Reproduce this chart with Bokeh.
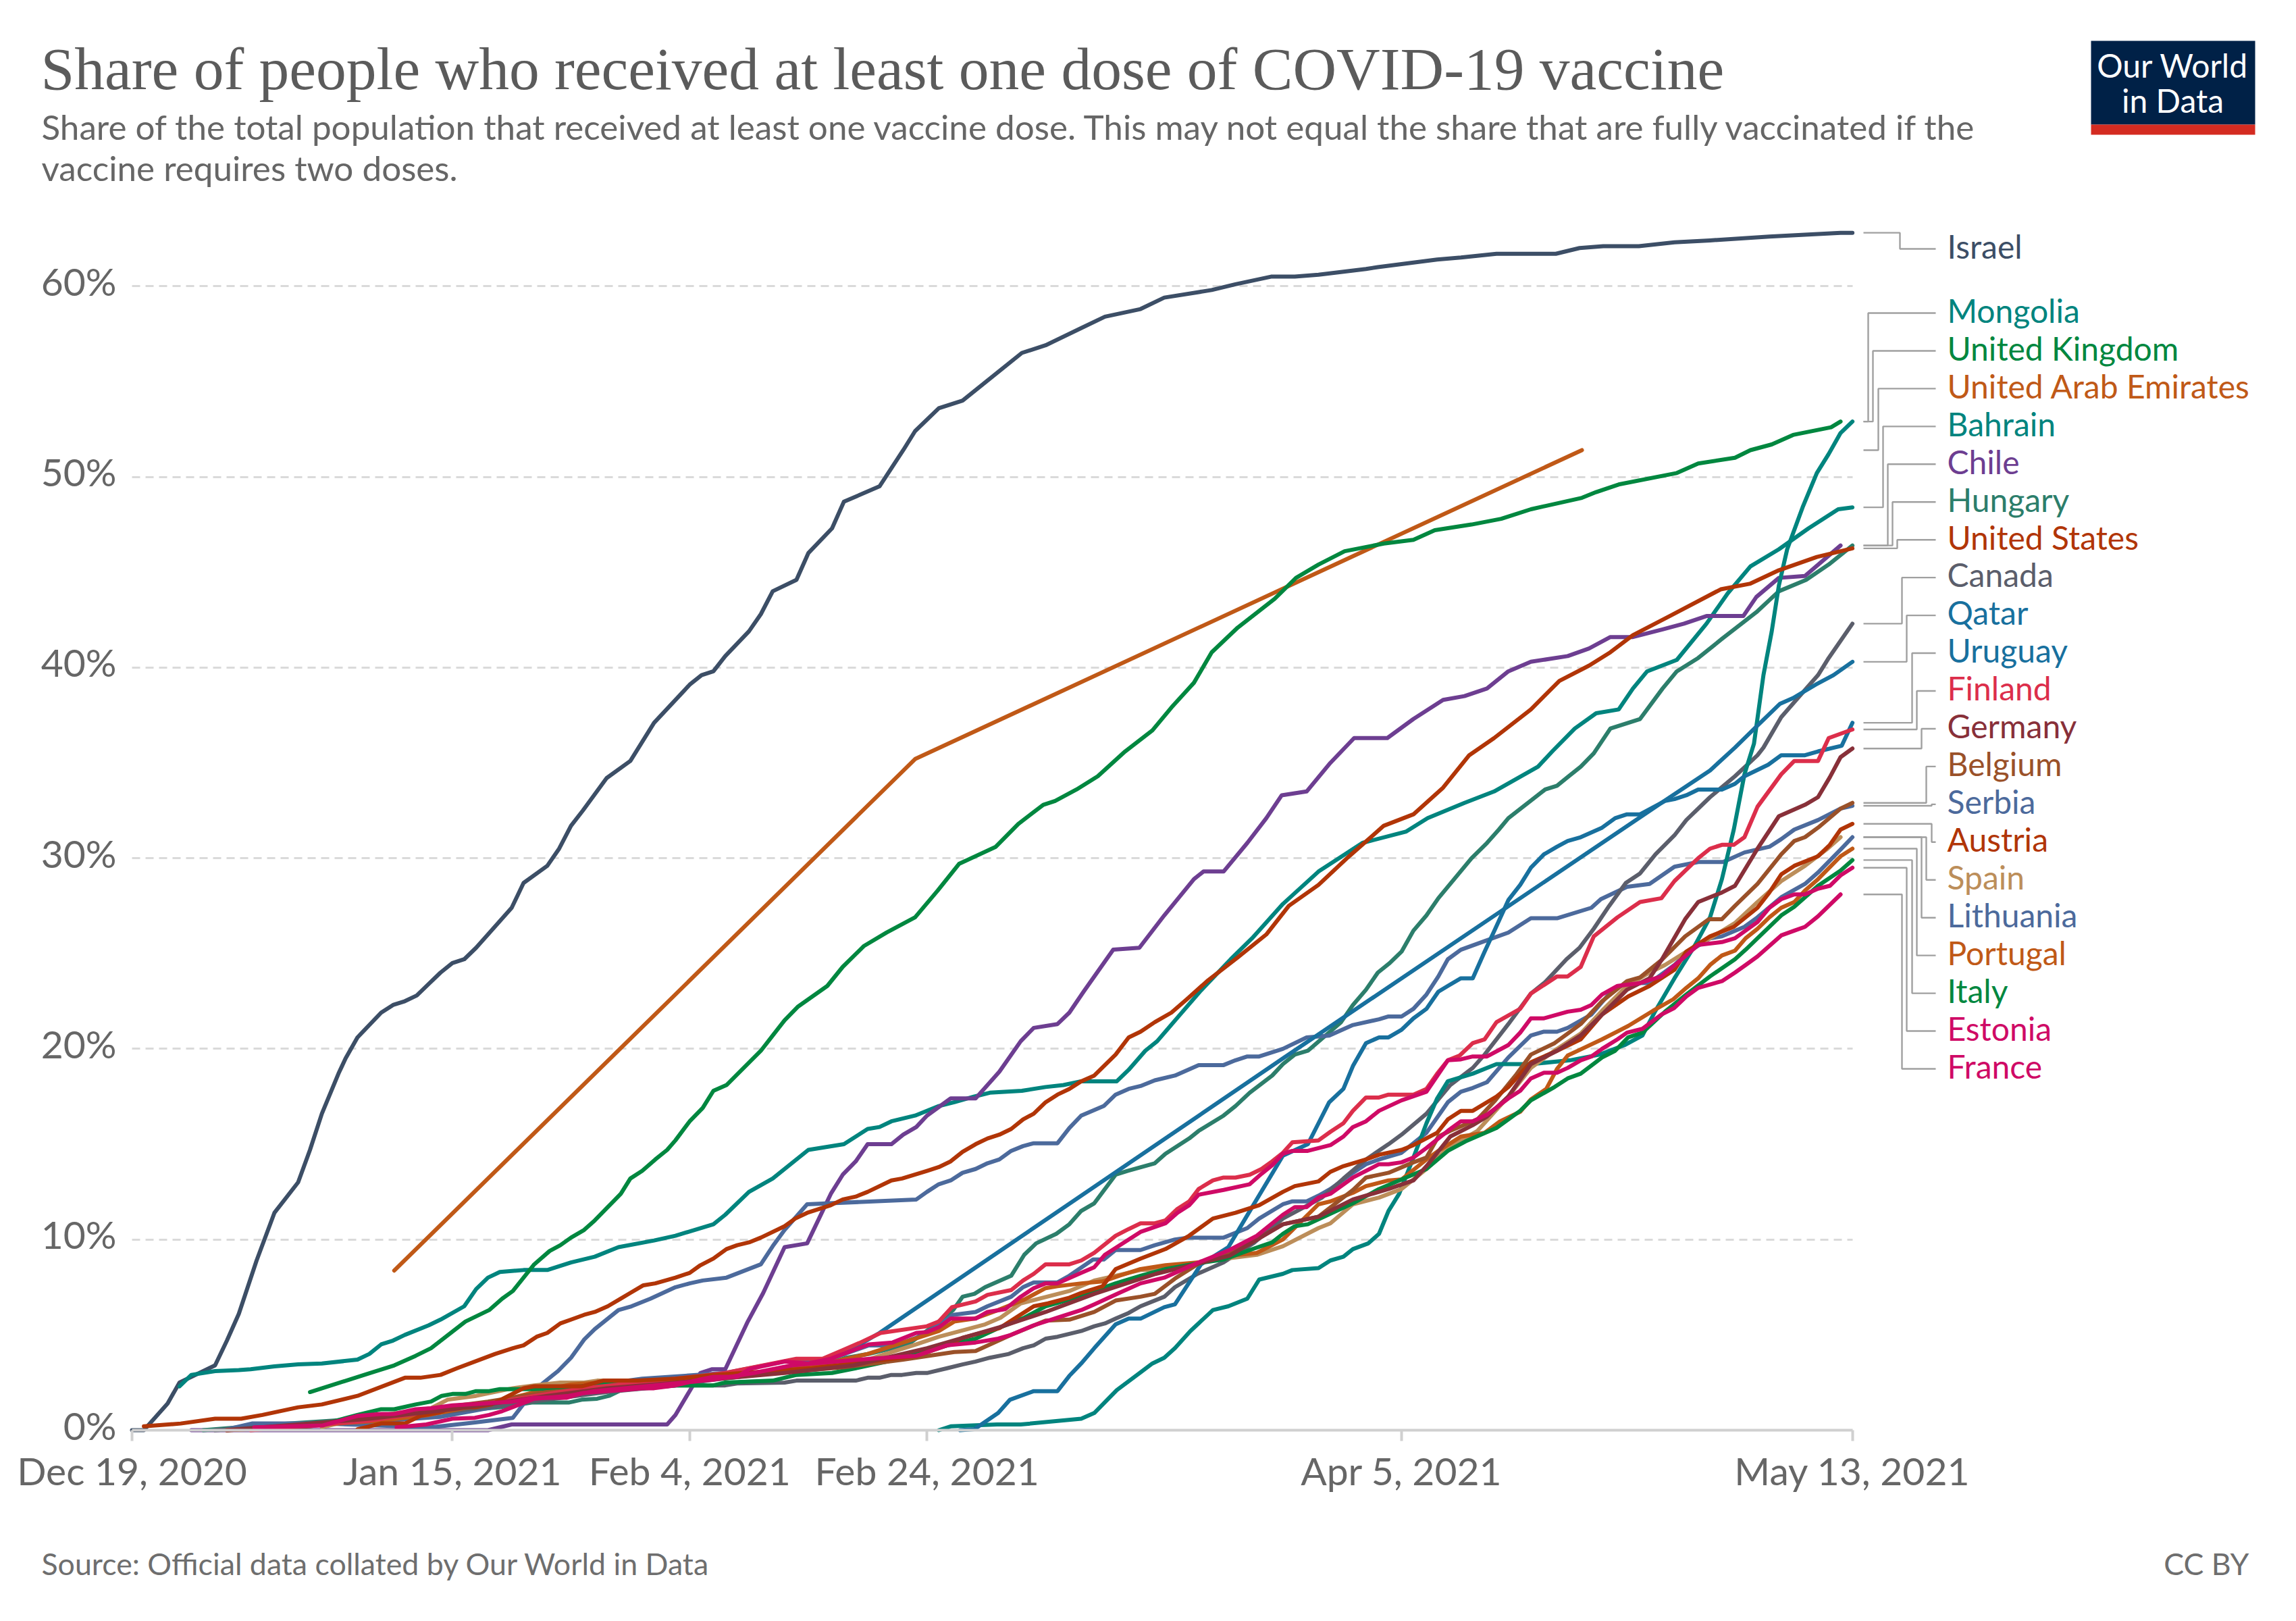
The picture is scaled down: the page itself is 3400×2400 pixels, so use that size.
from bokeh.plotting import figure
from bokeh.embed import file_html
from bokeh.resources import INLINE
from bokeh.models import Range1d, LinearAxis, FixedTicker, Grid, Label

# ---------- data: (days since Dec 19 2020, share %) ----------
x_tick_days = [0, 27, 47, 67, 107, 145]
x_tick_labels = ["Dec 19, 2020", "Jan 15, 2021", "Feb 4, 2021", "Feb 24, 2021", "Apr 5, 2021", "May 13, 2021"]
y_ticks = [0, 10, 20, 30, 40, 50, 60]

israel = [(0,0),(1,0),(3,1.4),(4,2.5),(5,2.8),(7,3.4),(8,4.7),(9,6.1),(10.5,8.9),(12,11.4),(14,13),(15,14.7),(16,16.6),(17.4,18.7),(18,19.5),(19,20.6),(21,21.9),(22,22.3),(23,22.5),(24,22.8),(25,23.4),(26,24),(27,24.5),(28,24.7),(29,25.3),(30,26),(32,27.4),(33,28.7),(35,29.6),(36,30.5),(37,31.7),(38,32.5),(40,34.2),(42,35.1),(43,36.1),(44,37.1),(47,39.1),(48,39.6),(49,39.8),(50,40.6),(52,41.9),(53,42.8),(54,44),(56,44.6),(57,46),(59,47.3),(60,48.7),(63,49.5),(65,51.4),(66,52.4),(68,53.6),(70,54),(72,55),(75,56.5),(77,56.9),(80,57.8),(82,58.4),(85,58.8),(87,59.4),(90,59.7),(91,59.8),(93,60.1),(96,60.5),(98,60.5),(100,60.6),(104,60.9),(105,61),(110,61.4),(112,61.5),(115,61.7),(120,61.7),(122,62),(124,62.1),(127,62.1),(130,62.3),(133,62.4),(138,62.6),(144,62.8),(145,62.8)]
mongolia = [(68,0),(69,0.2),(72.9,0.3),(74.9,0.3),(80,0.6),(81.1,0.9),(83,2.1),(86,3.5),(87,3.8),(87.9,4.3),(89.2,5.2),(91.1,6.3),(92.4,6.5),(94,6.9),(95,7.9),(97,8.2),(97.8,8.4),(100,8.5),(101,8.9),(102.1,9.1),(102.9,9.5),(104.2,9.8),(105.1,10.3),(105.9,11.5),(106.8,12.4),(108,14.3),(109.1,16.1),(110,17.4),(110.9,18.3),(113,18.7),(115,19.2),(117.9,19.2),(121.2,19.4),(123.7,19.7),(125.8,20.2),(127.3,20.7),(128.4,22),(130,23.7),(131.7,25.4),(133,26.9),(134,28.9),(135,31.5),(135.9,34.4),(136.7,36),(137.5,39.6),(138.2,41.9),(138.8,44.3),(139.5,46.2),(140.8,48.4),(142,50.2),(143,51.2),(144,52.3),(145,52.9)]
united_kingdom = [(15,2.0),(22.1,3.4),(23.9,3.9),(25.2,4.3),(28.1,5.7),(30.1,6.3),(31.2,6.9),(32.1,7.3),(33.9,8.7),(35.2,9.4),(36.1,9.7),(37,10.1),(38.1,10.5),(39,11),(40.1,11.7),(41.2,12.4),(42,13.2),(43,13.6),(44.1,14.2),(45.1,14.7),(45.8,15.2),(47,16.2),(48.1,16.9),(49,17.8),(50.1,18.1),(53,19.9),(54,20.7),(55,21.5),(56.1,22.2),(58.6,23.3),(59.9,24.3),(61.7,25.4),(63.6,26.1),(66,26.9),(67.9,28.3),(69.7,29.7),(72.8,30.6),(74.7,31.8),(76.8,32.8),(77.8,33),(79.6,33.6),(81.4,34.3),(83.7,35.6),(86,36.7),(87.6,37.9),(89.5,39.2),(91,40.8),(93.2,42.1),(96.3,43.6),(98.1,44.7),(100,45.4),(102.2,46.1),(105.5,46.5),(108,46.7),(109.8,47.2),(112.9,47.5),(115.4,47.8),(117.9,48.3),(122.2,48.9),(123.4,49.2),(125.3,49.6),(130.2,50.2),(132,50.7),(135.1,51),(136.4,51.4),(138.2,51.7),(140,52.2),(143.2,52.6),(144,52.9)]
united_arab_emirates = [(22.1,8.37),(66,35.2),(122.2,51.4)]
bahrain = [(4.0,2.3),(5,2.9),(7,3.1),(9,3.15),(10,3.2),(12,3.35),(14,3.45),(16,3.5),(19,3.7),(20,4.0),(21,4.5),(22,4.7),(23,5),(25,5.5),(26,5.8),(28,6.5),(29,7.4),(30,8.0),(31,8.3),(33,8.4),(35,8.4),(37,8.8),(39,9.1),(41,9.6),(44,9.95),(45.8,10.2),(49,10.8),(50,11.3),(52,12.5),(54,13.2),(57,14.7),(60,15),(62,15.8),(63,15.9),(64,16.2),(66,16.5),(68,17),(69.3,17.2),(71,17.5),(72.3,17.7),(75,17.8),(77,18),(78.5,18.1),(80,18.3),(83,18.3),(84,18.9),(85.4,19.9),(86.4,20.4),(88.2,21.7),(90,23),(92.6,24.7),(94.4,25.8),(97,27.6),(100,29.3),(103.7,30.8),(107.4,31.4),(109.2,32.1),(112.3,32.9),(114.8,33.5),(118.5,34.8),(119.7,35.6),(121.6,36.8),(123.4,37.6),(125.3,37.8),(126.5,38.9),(127.7,39.8),(130.2,40.4),(132.7,42.3),(134.5,43.9),(136.4,45.3),(138.8,46.2),(141.3,47.3),(143.8,48.3),(145,48.4)]
chile = [(5,0),(30,0),(32,0.3),(45.1,0.3),(45.8,0.8),(47.9,3.0),(48.9,3.2),(50,3.2),(51.9,5.7),(53.2,7.2),(55,9.6),(56.9,9.8),(58.9,12.4),(59.9,13.4),(61,14.1),(62,15),(64,15),(65,15.5),(66.1,15.9),(67,16.5),(69,17.4),(71.1,17.4),(73.1,18.8),(74.9,20.4),(76,21.1),(78,21.3),(79,21.9),(80.2,23),(82.7,25.2),(84.9,25.3),(87,27),(89.5,28.9),(90.3,29.3),(92,29.3),(94,30.8),(95.6,32.1),(96.9,33.3),(99,33.5),(101,35),(103,36.3),(105.8,36.3),(108,37.3),(110.5,38.3),(112.3,38.5),(114.2,38.9),(116,39.8),(117.9,40.3),(121,40.6),(122.8,41),(124.6,41.6),(126.5,41.6),(129,42),(130.8,42.3),(132.7,42.7),(135.8,42.7),(136.9,43.7),(138.8,44.7),(141,44.8),(144,46.4)]
hungary = [(6,0),(12,0.3),(22,0.7),(31,1.2),(33.7,1.45),(36.8,1.45),(37.9,1.6),(39.2,1.65),(40.2,1.8),(41.2,2.1),(45.8,2.35),(49,2.65),(54,3),(58.2,3.4),(60.2,3.8),(62.1,4),(65.4,4.5),(67.4,5.4),(69.2,6.3),(70,7),(71,7.15),(71.9,7.5),(74.1,8.1),(75.2,9.2),(76.2,9.8),(77.9,10.3),(79,10.8),(80,11.5),(81.1,11.9),(82.9,13.4),(83.9,13.6),(86.2,14),(87.1,14.5),(89.1,15.3),(89.9,15.7),(92,16.5),(93,17),(94.2,17.7),(96.1,18.6),(97,19.2),(98,19.7),(99.1,19.9),(101.9,21.4),(102.9,22.3),(104,23.1),(105,24),(106,24.5),(107,25.1),(108,26.2),(109.1,27),(110.1,27.9),(112.9,30),(114.2,30.8),(115.2,31.5),(116,32.1),(119.1,33.6),(120.1,33.8),(121.1,34.3),(122.1,34.8),(123.2,35.5),(124.6,36.8),(127.1,37.3),(129,38.9),(130.2,39.8),(132,40.5),(134,41.5),(136.9,42.9),(138.8,44),(141.1,44.6),(143,45.4),(145,46.4)]
united_states = [(1,0.2),(4.1,0.35),(7,0.6),(9.2,0.6),(11,0.8),(14,1.2),(16,1.35),(19,1.8),(23,2.75),(24.3,2.75),(26,2.9),(27.4,3.25),(30.6,4),(32.1,4.3),(33,4.45),(34.1,4.9),(35,5.1),(36.1,5.6),(37,5.8),(38.1,6.05),(39,6.2),(40.1,6.5),(41.2,6.9),(42,7.2),(43.1,7.6),(44.1,7.7),(45.8,8),(47,8.25),(47.9,8.65),(49,9),(50.1,9.5),(51,9.7),(52,9.85),(53,10.1),(55,10.7),(55.9,11.1),(56.9,11.4),(58.9,11.8),(59.9,12.1),(61,12.25),(62,12.5),(64,13.1),(64.9,13.2),(67,13.6),(68,13.8),(69,14.1),(70,14.6),(71.1,15),(72.1,15.3),(73.1,15.5),(74.1,15.8),(75.1,16.3),(76,16.6),(77,17.2),(78,17.6),(79,17.9),(80,18.3),(81.1,18.6),(82.9,19.7),(84,20.6),(85,20.9),(86.2,21.4),(87.6,21.9),(88.9,22.6),(90.7,23.6),(93.2,24.8),(95.6,26),(97.5,27.5),(100,28.6),(102.4,30),(105.5,31.7),(108,32.3),(110.5,33.7),(112.7,35.4),(114.8,36.3),(117.9,37.8),(120.3,39.3),(122.8,40.1),(124.6,40.8),(126.5,41.7),(129.6,42.7),(133.9,44.1),(136.4,44.4),(138.8,45.1),(142,45.8),(145,46.25)]
canada = [(7,0),(20,0.5),(30,1.2),(40,2.0),(45.8,2.35),(50,2.35),(51,2.45),(55,2.5),(56,2.6),(61,2.6),(62,2.75),(63,2.75),(64,2.9),(64.9,2.9),(66.1,3),(67,3),(68.7,3.25),(70,3.45),(71.1,3.6),(72.3,3.8),(73.9,4),(75.1,4.3),(76,4.45),(77,4.8),(78,4.9),(80,5.2),(81.1,5.45),(82,5.6),(82.9,5.85),(84,6.15),(85,6.5),(87,7),(87.9,7.5),(89.8,8.2),(92,8.8),(94.5,9.8),(97,11.1),(100.3,12.2),(102.1,13.2),(104,14.2),(105.9,15),(107,15.5),(109.1,16.6),(111.1,18.1),(113,19),(114,19.7),(116,21.3),(117.9,22.9),(119.1,23.5),(120.9,24.7),(122,25.3),(123.2,26.3),(124.5,27.5),(125.9,28.7),(127.1,29.2),(128.4,30.2),(130,31.2),(131,32),(133,33.2),(135.1,34.3),(137,35.4),(137.5,35.8),(139,37.4),(140.4,38.4),(142.1,39.6),(143,40.5),(145,42.3)]
qatar = [(42,2.4),(50,2.8),(56,3.3),(60,4),(63,5.1),(97,19.5),(128.9,32.9),(133,34.6),(135.1,35.8),(136.9,36.9),(138.9,38.1),(140,38.4),(141.9,39.1),(143.4,39.6),(145,40.3)]
uruguay = [(69.8,0),(71,0.05),(73,0.9),(74,1.6),(76,2.05),(78,2.05),(79,2.85),(80,3.5),(81.1,4.3),(82.9,5.55),(84,5.85),(85,5.85),(87,6.45),(87.9,6.6),(90.1,8.7),(92.4,9.6),(94.5,11.8),(97,14.4),(99.1,15),(100,16.1),(100.9,17.2),(102.1,17.9),(102.9,19.1),(104,20.3),(105.1,20.6),(105.9,20.6),(107,21),(108,21.6),(109.1,22.1),(110.1,23),(110.9,23.3),(112,23.7),(113,23.7),(114,25.1),(114.9,26.3),(116,27.8),(117,28.6),(117.9,29.5),(119,30.2),(120.1,30.6),(121,30.9),(122.1,31.1),(123.9,31.6),(125,32.1),(126,32.3),(127.1,32.3),(129.2,33),(130,33.1),(131,33.3),(132,33.6),(134,33.6),(135.1,33.9),(135.9,34.3),(137.9,34.9),(139,35.4),(141,35.4),(142.1,35.6),(144.1,35.9),(145,37.1)]
finland = [(10,0),(20,0.5),(30,1.4),(38,2.2),(45.8,2.7),(50,3),(54,3.5),(56,3.75),(58.2,3.75),(59.9,4.2),(61.4,4.6),(63.1,5.1),(67,5.45),(68,5.7),(69.1,6.45),(71.1,6.75),(72.1,7.1),(74.1,7.35),(75.1,7.85),(76,8.2),(77,8.7),(79,8.7),(80,8.9),(81.1,9.3),(82.1,9.8),(82.9,10.2),(84,10.55),(85,10.85),(86.2,10.85),(87.1,11),(88.1,11.6),(89.1,12),(89.9,12.65),(91.1,13.1),(92,13.25),(93,13.25),(94.2,13.4),(95.2,13.7),(96.1,14.1),(97,14.55),(97.8,15.1),(100,15.2),(101,15.65),(102.1,16.1),(102.9,16.75),(104,17.45),(105.1,17.45),(105.9,17.6),(108,17.6),(109.1,17.9),(110,18.7),(110.9,19.4),(111.9,19.65),(113,20.3),(114,20.5),(115,21.4),(117,22.1),(117.9,22.9),(120.1,23.8),(121,23.8),(122.1,24.3),(123.2,25.9),(125.2,26.9),(127.1,27.7),(128.9,27.9),(130,28.8),(132,30),(133,30.5),(134,30.7),(135,30.7),(135.9,31.1),(137,32.7),(139,34.4),(140.1,35.1),(142.1,35.1),(143,36.3),(145,36.75)]
germany = [(8,0),(12,0.2),(20,0.6),(27,1.1),(35,1.8),(40,2.2),(46,2.5),(55,3),(60.8,3.4),(67,4.3),(73.1,5.4),(77,6.2),(81.1,7.15),(86.3,8.2),(92.5,9.15),(97,10.8),(100,11.2),(102.9,12.1),(105.9,12.65),(108,13.1),(109.1,13.85),(111.1,15.4),(113,16),(114.2,16.45),(116,17.5),(117.9,19.2),(120.1,19.9),(122.1,20.7),(123.9,21.8),(125.2,22.6),(126,23.1),(127.9,23.7),(128.9,24.65),(130.9,26.8),(132,27.7),(134,28.2),(135.1,28.55),(137,30.5),(138.8,32.2),(141,32.8),(142.1,33.2),(143.1,34.25),(144,35.3),(145,35.75)]
belgium = [(8,0),(15,0.2),(25,1.1),(30,1.5),(35,2),(40,2.2),(46,2.6),(50,2.8),(60,3.3),(65,3.7),(69.3,4.1),(71.1,4.15),(74.1,5),(77,5.75),(79,5.8),(81.1,6.2),(82.9,6.8),(85,7),(86.2,7.15),(87.9,7.95),(89.8,8.7),(92.5,9.35),(95.2,10.15),(97,10.8),(100,11.2),(102.9,12.6),(104,13.25),(105.9,13.5),(108,14.05),(109.1,14.3),(110.1,15.4),(111.1,15.7),(113.4,16.3),(114.9,17.3),(116.6,18.6),(117.9,19.7),(119.9,20.3),(122.1,21.3),(123.9,22.5),(126,23.55),(127.1,23.75),(128.9,24.65),(130.9,25.9),(132.9,26.8),(134,26.8),(135.1,27.5),(137,28.65),(139,30.2),(140.1,30.9),(141,31.1),(142.1,31.6),(144,32.6),(145,32.9)]
serbia = [(8,0.05),(10.1,0.35),(16,0.35),(25.2,0.15),(28.8,0.4),(32.1,0.65),(33.9,2.1),(35.9,3.1),(37,3.8),(38.1,4.75),(39,5.3),(41,6.3),(42.1,6.5),(43.7,6.9),(45.8,7.5),(47,7.7),(48.1,7.85),(50.1,8),(53,8.7),(54,9.65),(55,10.5),(56.9,11.85),(66.1,12.1),(67,12.5),(68,12.9),(69,13.1),(70,13.5),(71.1,13.7),(72.1,14),(73.1,14.2),(74.1,14.65),(75.1,14.9),(76,15.05),(78,15.05),(79,15.85),(80,16.5),(81.9,17),(82.9,17.6),(84,17.9),(85,18.05),(86.2,18.35),(87.9,18.6),(89.9,19.15),(92,19.15),(93,19.4),(94,19.6),(95,19.6),(97,20),(99,20.6),(100.9,20.7),(102.9,21.25),(105.1,21.55),(105.9,21.7),(107,21.7),(108,22.1),(109.1,22.85),(110.1,23.8),(110.9,24.7),(112,25.2),(114,25.65),(116,26.1),(117.9,26.85),(120.1,26.85),(123,27.4),(123.8,27.85),(126,28.5),(127.9,28.65),(130,29.55),(132,29.8),(134.1,29.8),(135.9,30.3),(138,30.6),(139,31),(140.1,31.5),(142.1,32),(144,32.6),(145,32.75)]
austria = [(19,0.05),(21,0.35),(23,0.35),(24.3,0.75),(26,0.95),(27,1.2),(28.9,1.2),(30.3,1.35),(33,2.2),(33.9,2.3),(37.9,2.3),(39.7,2.6),(42.6,2.6),(45.8,2.7),(49,2.9),(57.3,3.25),(62.2,3.6),(66.1,3.9),(68.7,4.45),(70,4.85),(73.1,5.35),(76,6.5),(77.2,6.65),(79,6.95),(80,7.2),(81.8,7.55),(82.9,8.45),(85,9),(87.1,9.5),(89.1,10.2),(91.1,11.1),(93,11.4),(95,11.8),(97,12.5),(98,12.8),(100,13.05),(101,13.55),(102.1,13.85),(104,14.2),(105.1,14.45),(107,14.7),(108,14.95),(110,15.6),(110.9,16.3),(112,16.75),(113,16.75),(115,17.5),(116,18),(117.9,19.3),(120.1,19.9),(122.1,20.5),(123.9,21.8),(126.1,22.75),(127.9,23.3),(130,24.15),(131,25.1),(133,25.9),(135,26.4),(137,27.4),(138,28.2),(139,29.15),(140.1,29.6),(142.1,30.1),(143.1,30.7),(144,31.5),(145,31.8)]
spain = [(16,0.15),(19,0.6),(25.2,1.15),(26.6,1.6),(29,1.8),(32.1,2.2),(33.9,2.35),(36.1,2.5),(38.1,2.5),(39.2,2.6),(45.8,2.5),(55,3.1),(62,3.7),(66.1,4.5),(68,4.9),(71.9,5.55),(73.2,5.9),(74.9,6.65),(79,7.3),(81.1,7.85),(82.9,8.1),(85,8.4),(87,8.45),(90.9,8.9),(94.8,9.2),(97,9.65),(100,10.6),(101,10.85),(102.9,11.85),(105.1,12.2),(107,12.65),(109.1,13.7),(110.9,14.8),(113.4,15.7),(116,17.5),(117.9,19),(120.1,20),(122.1,20.8),(123.9,22),(126,23.3),(127.9,24),(129.2,24.4),(131,25.1),(133,25.8),(135.1,26.6),(137,27.7),(139,28.8),(141,29.6),(142.8,30.45),(144,31.1)]
lithuania = [(8,0),(10,0.15),(19,0.4),(26,0.7),(33,1.5),(37,2.2),(43,2.7),(50,3),(55,3.6),(56.9,3.6),(58.9,3.75),(62.1,4.45),(64.3,4.45),(66.1,4.85),(68,5.5),(69.2,6.05),(71.1,6.2),(72.1,6.5),(74.1,7),(75.1,7.5),(76,7.75),(78,7.75),(79,8.1),(81,8.95),(81.9,8.95),(82.9,9.45),(85,9.45),(86.2,9.7),(87.9,10),(89,10.1),(92,10.1),(94,10.6),(95,11.1),(97,11.85),(97.8,12),(99,12),(100,12.3),(101,12.65),(102.9,13.5),(104,13.95),(105.1,14.2),(107,14.55),(109.1,15.6),(110.9,17.2),(112,17.75),(113,17.95),(114.2,18.25),(116,19.55),(117.9,20.7),(119,20.9),(120.1,20.9),(121,21.1),(123,21.8),(124.8,23.1),(126,23.45),(127.9,23.45),(130,24.4),(131.2,25.1),(133,25.8),(134,25.9),(135.9,26.4),(137,26.9),(139,27.95),(141,28.65),(142.1,29.25),(144,30.45),(145,31.1)]
portugal = [(8,0),(11,0.1),(16,0.3),(21,0.5),(25,0.8),(30,1.4),(34,2),(37,2.4),(42,2.6),(46,2.6),(52,2.9),(57,3.3),(62,4),(65,4.6),(68,5.2),(69.3,5.7),(71,5.85),(73,6.3),(75.2,6.85),(77,7.45),(78,7.55),(80,7.7),(81.8,7.8),(83.2,8.1),(85,8.45),(87.1,8.65),(89.9,8.8),(92.5,9.15),(94.8,9.3),(97,10),(100,11.85),(101,12),(102.9,12.45),(104,12.8),(105.9,13.1),(107,13.15),(109.1,14.2),(110.1,14.65),(112,15.4),(114,15.6),(115.3,16.2),(117,16.7),(117.9,17.35),(119.2,17.9),(120.1,18.95),(121,19.65),(122.2,20),(123.9,20.5),(126.1,21.2),(128.2,22),(129.9,22.6),(131,23.2),(132,23.7),(133,24.4),(134,24.9),(135.1,25.15),(136,25.8),(137,26.3),(138,26.9),(139,27.4),(140.1,27.7),(141,28.3),(142.1,28.9),(144,30.1),(145,30.5)]
italy = [(16,0.3),(19,0.8),(21,1.1),(22.1,1.1),(23.9,1.35),(25.2,1.5),(26.1,1.8),(27,1.9),(28.1,1.9),(29,2.05),(30.1,2.05),(31,2.15),(33.9,2.15),(37.9,2.3),(39,2.4),(45.8,2.35),(49,2.35),(50,2.5),(54,2.6),(56,2.9),(59,3),(61,3.25),(65.1,3.8),(68.4,4.4),(71.1,4.8),(73,5.35),(75.2,5.9),(77,6.5),(79,6.85),(81.1,7.3),(82.9,7.7),(85,8.1),(87.1,8.45),(89.8,8.75),(92,8.95),(94.2,9.45),(96.1,9.85),(97,10.3),(98,10.7),(99.1,10.8),(101,11.35),(102.9,11.9),(105.1,12.65),(107,13.15),(109.1,13.7),(110.9,14.65),(112.4,15.15),(115,15.85),(117,16.75),(117.9,17.3),(119.9,18),(121,18.45),(122.1,18.7),(123.9,19.55),(125,19.9),(126.1,20.6),(127.3,20.85),(129.2,21.95),(131,22.85),(133,23.8),(135.1,24.7),(136,25.2),(137,25.8),(139,27),(140.1,27.45),(142.1,28.55),(144,29.35),(145,29.9)]
estonia = [(10.3,0.15),(16.1,0.25),(19,0.75),(21,0.85),(22.1,0.85),(23.9,1.1),(25.2,1.15),(27,1.3),(32.1,1.5),(33.9,1.7),(36.6,1.7),(38,1.95),(40.1,2.05),(41.2,2.1),(43,2.2),(44,2.2),(45.8,2.35),(47.8,2.65),(49,2.8),(51,2.8),(52,3.2),(55,3.6),(57,3.5),(58.9,3.75),(60.8,4.2),(62.1,4.5),(64.1,4.6),(66.1,5.1),(67,5.15),(68,5.4),(69,5.85),(71.1,5.85),(72.1,6.2),(73.6,6.35),(74.9,7),(76,7.45),(77,7.7),(78,7.7),(80,8.25),(81.1,8.55),(82,9.2),(84,10),(85,10.4),(87.1,10.85),(88.1,11.4),(89.1,11.8),(89.9,12.35),(92,12.6),(94.2,12.9),(95.2,13.45),(96.1,13.9),(97,14.5),(97.8,14.65),(99.1,14.65),(101,14.95),(102.1,15.4),(102.9,15.9),(104,16.2),(105.1,16.75),(107,17.3),(109.1,17.75),(110.9,19.4),(112,19.45),(113,19.6),(114.2,19.6),(116,20.2),(117,20.85),(117.9,21.6),(119,21.6),(121,21.95),(122.1,22.05),(123,22.3),(123.9,22.85),(125.2,23.3),(127.1,23.45),(128.9,23.8),(130.9,24.85),(132,25.45),(134,25.6),(135.1,25.8),(137,26.65),(138,27.4),(139,27.85),(140.1,28.1),(141,28.1),(142.1,28.4),(143.1,28.55),(144,29.1),(145,29.5)]
france = [(22.3,0.15),(24.8,0.3),(27,0.6),(28.9,0.65),(30.1,0.8),(31.2,1),(33.9,1.65),(36.8,1.8),(39,2.05),(45.8,2.45),(49,2.65),(52.4,3),(55.6,3.4),(62.2,3.75),(66.1,3.9),(68.7,4.45),(71.1,4.6),(73,4.8),(74.1,5),(76,5.5),(78,5.9),(80,6.3),(81.1,6.6),(83.2,7.2),(85,7.7),(87,8),(89.9,8.8),(92.5,9.45),(94.8,10.2),(97,11.3),(98,11.7),(99,11.7),(100,12.2),(101,12.4),(102.9,13.25),(105.1,13.95),(105.9,13.95),(107,14.05),(108,14.3),(109.1,14.8),(110.9,15.7),(112,16.2),(113,16.2),(114.2,16.55),(116,17.4),(117,17.8),(117.9,18.45),(119,18.75),(120.1,18.75),(121,19),(122.1,19.4),(123,19.6),(123.9,20),(125.2,20.5),(126,20.85),(127.3,21.05),(128.9,21.8),(130,22.15),(131,22.75),(132,23.2),(134,23.55),(135.1,24),(136,24.4),(137,24.85),(139,25.95),(140.1,26.2),(141,26.4),(142.1,26.95),(144,28.1)]

# legend order (top to bottom)
legend_names = ["Mongolia","United Kingdom","United Arab Emirates","Bahrain","Chile","Hungary","United States","Canada","Qatar","Uruguay","Finland","Germany","Belgium","Serbia","Austria","Spain","Lithuania","Portugal","Italy","Estonia","France"]

# ---------- styling & layout ----------
SERIES = {"Israel":israel,"Mongolia":mongolia,"United Kingdom":united_kingdom,"United Arab Emirates":united_arab_emirates,"Bahrain":bahrain,"Chile":chile,"Hungary":hungary,"United States":united_states,"Canada":canada,"Qatar":qatar,"Uruguay":uruguay,"Finland":finland,"Germany":germany,"Belgium":belgium,"Serbia":serbia,"Austria":austria,"Spain":spain,"Lithuania":lithuania,"Portugal":portugal,"Italy":italy,"Estonia":estonia,"France":france}
COLORS = {"Israel":"#3C4E66","Mongolia":"#00847E","United Kingdom":"#00873F","United Arab Emirates":"#C05917","Bahrain":"#00847E","Chile":"#6D3E91","Hungary":"#2C7E6B","United States":"#B13507","Canada":"#5B5E6B","Qatar":"#18709E","Uruguay":"#18709E","Finland":"#DC2E4B","Germany":"#883039","Belgium":"#9A5129","Serbia":"#4C6A9C","Austria":"#B13507","Spain":"#BC8E5A","Lithuania":"#4C6A9C","Portugal":"#C05917","Italy":"#00873F","Estonia":"#CF0A66","France":"#CF0A66"}
DRAW_ORDER = ["Israel","United Arab Emirates","Bahrain","United Kingdom","Chile","Hungary","Serbia","Lithuania","Canada","Mongolia","Qatar","Uruguay","Spain","Portugal","Italy","Belgium","Finland","Austria","Germany","United States","France","Estonia"]

W, H = 3384, 2384
PX_X0, PX_Y0 = 195.0, 2117.0
PX_PER_DAY, PX_PER_PCT = 17.57, 28.23
def dx(px): return (px - PX_X0) / PX_PER_DAY
def dy(py): return (PX_Y0 - py) / PX_PER_PCT
x_start, x_end = dx(0), dx(W)
y_start, y_end = dy(H), dy(0)

p = figure(width=W, height=H, output_backend="svg", toolbar_location=None,
           x_range=Range1d(x_start, x_end), y_range=Range1d(y_start, y_end),
           x_axis_type=None, y_axis_type=None,
           min_border_left=0, min_border_right=0, min_border_top=0, min_border_bottom=0,
           outline_line_color=None, background_fill_color="white", border_fill_color="white")
p.grid.visible = False

# grid
grid = Grid(dimension=1, ticker=FixedTicker(ticks=[t for t in y_ticks if t > 0]), cross_bounds=(0, 145),
            grid_line_color="#DADADA", grid_line_width=3, grid_line_dash=[12, 8])
p.add_layout(grid)

# x axis
xax = LinearAxis(fixed_location=0, ticker=FixedTicker(ticks=x_tick_days),
                 major_label_overrides=dict(zip(x_tick_days, x_tick_labels)), bounds=(0, 145),
                 axis_line_color="#D0D0D0", axis_line_width=4, major_tick_line_color="#D0D0D0", major_tick_line_width=4,
                 major_tick_out=16, major_tick_in=0, minor_tick_line_color=None,
                 major_label_text_font="Lato", major_label_text_font_size="57px", major_label_text_color="#666666",
                 major_label_standoff=9)
p.add_layout(xax, "below")

# y axis labels sit slightly above their gridlines
LAB_SHIFT = 8 / PX_PER_PCT
p.extra_y_ranges = {"lab": Range1d(y_start - LAB_SHIFT, y_end - LAB_SHIFT)}
yax = LinearAxis(y_range_name="lab", fixed_location=0, ticker=FixedTicker(ticks=y_ticks),
                 major_label_overrides={t: f"{t}%" for t in y_ticks},
                 axis_line_color=None, major_tick_line_color=None, minor_tick_line_color=None,
                 major_label_text_font="Lato", major_label_text_font_size="57px", major_label_text_color="#666666",
                 major_label_standoff=17)
p.add_layout(yax, "left")

# lines
for name in DRAW_ORDER:
    pts = SERIES[name]
    p.line([a for a, _ in pts], [b for _, b in pts], line_color=COLORS[name], line_width=6,
           line_join="round", line_cap="round")

# text helper: Label's alphabetic anchor renders about 0.4em below the requested position
def text(px, py, s, font="Lato", size=48, color="#666666", align="left", k=0.40):
    p.add_layout(Label(x=dx(px), y=dy(py - k * size), text=s, text_font=font, text_font_size=f"{size}px",
                       text_color=color, text_align=align, text_baseline="alphabetic"))

# connectors and labels
CONN_START, CONN_END, LABEL_X = 2759, 2866, 2883
ISRAEL_LABEL_Y, FIRST_LABEL_Y, LABEL_STEP = 368, 463, 55.95
MID_XS = [2766,2773,2781,2788,2795,2802,2809,2816,2823,2831,2838,2845,2852,2860,2860,2852,2845,2838,2831,2823,2816]

def connector(name, ly, mid):
    vy = SERIES[name][-1][1]
    p.line([dx(CONN_START), dx(mid), dx(mid), dx(CONN_END)], [vy, vy, dy(ly), dy(ly)],
           line_color="#A0A0A0", line_width=2.4)
    text(LABEL_X, ly + 15, name, size=48, color=COLORS[name])

connector("Israel", ISRAEL_LABEL_Y, 2813)
for i, (name, mid) in enumerate(zip(legend_names, MID_XS)):
    connector(name, FIRST_LABEL_Y + i * LABEL_STEP, mid)

text(60, 131, "Share of people who received at least one dose of COVID-19 vaccine",
     font="Liberation Serif", size=89.5, color="#5B5B5B", k=0.33)
text(61, 207, "Share of the total population that received at least one vaccine dose. This may not equal the share that are fully vaccinated if the", size=51.2)
text(61, 268, "vaccine requires two doses.", size=51.2)
text(61, 2332, "Source: Official data collated by Our World in Data", size=44.7, color="#6E6E6E")
text(3330, 2332, "CC BY", size=44.7, color="#6E6E6E", align="right")

# logo
p.quad(left=[dx(3096)], right=[dx(3339)], top=[dy(60)], bottom=[dy(184)], fill_color="#002147", line_color=None)
p.quad(left=[dx(3096)], right=[dx(3339)], top=[dy(184)], bottom=[dy(199)], fill_color="#D42B21", line_color=None)
text(3217, 115, "Our World", size=48, color="white", align="center")
text(3217, 167, "in Data", size=48, color="white", align="center")

open("out.html", "w").write(file_html(p, INLINE))
